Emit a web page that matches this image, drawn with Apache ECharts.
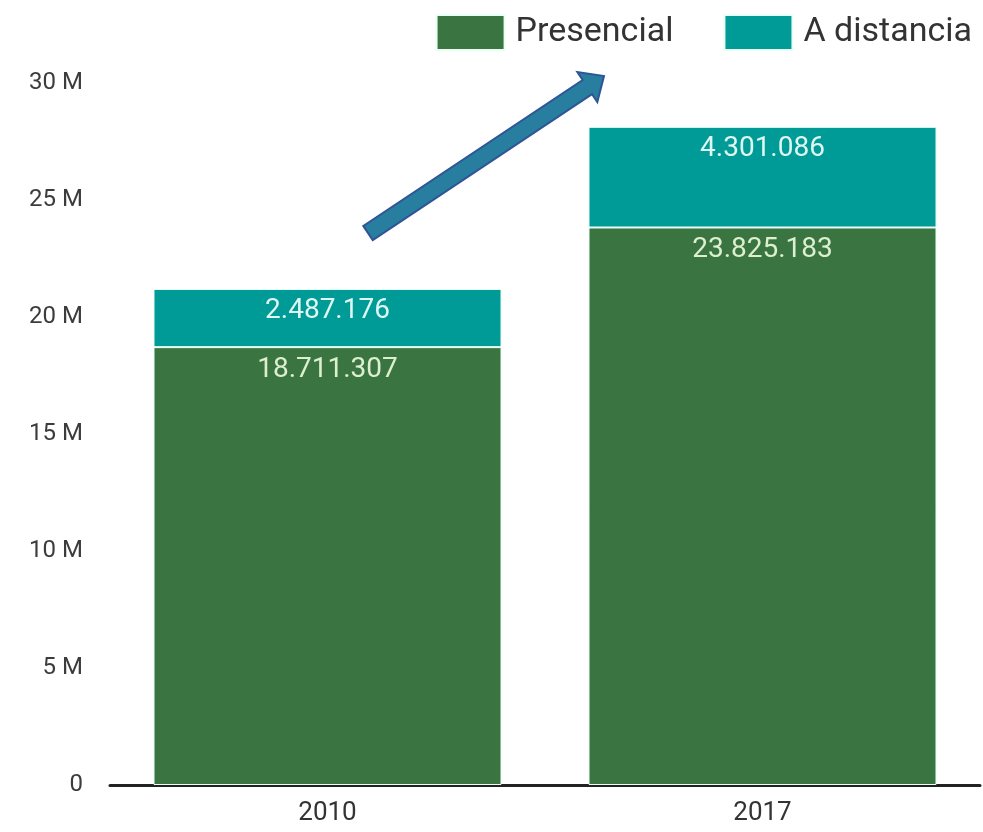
<!DOCTYPE html>
<html>
<head>
<meta charset="utf-8">
<script src="https://cdn.jsdelivr.net/npm/echarts@6/dist/echarts.min.js"></script>
<style>
  html, body { margin: 0; padding: 0; background: #fff; }
  #chart { width: 983px; height: 832px; }
</style>
</head>
<body>
<div id="chart"></div>
<script>
const years = ["2010", "2017"];
const presencial = [18711307, 23825183];
const aDistancia = [2487176, 4301086];
const yTicks = [0, 5, 10, 15, 20, 25, 30]; // millones

const fmt = (v) => String(v).replace(/\B(?=(\d{3})+(?!\d))/g, ".");

const chart = echarts.init(document.getElementById("chart"));

// flecha decorativa (tail -> tip)
const tail = [368, 233];
const tip = [604, 76];
const arrowPts = (() => {
  const dx = tip[0] - tail[0], dy = tip[1] - tail[1];
  const len = Math.hypot(dx, dy);
  const ux = dx / len, uy = dy / len;
  const nx = -uy, ny = ux;
  const hw = 8.5, headW = 18, headL = 20;
  const bx = tip[0] - ux * headL, by = tip[1] - uy * headL;
  return [
    [tail[0] + nx * hw, tail[1] + ny * hw],
    [bx + nx * hw, by + ny * hw],
    [bx + nx * headW, by + ny * headW],
    tip,
    [bx - nx * headW, by - ny * headW],
    [bx - nx * hw, by - ny * hw],
    [tail[0] - nx * hw, tail[1] - ny * hw]
  ];
})();

const option = {
  textStyle: { fontFamily: "Roboto" },
  legend: {
    top: 9,
    right: 6,
    itemWidth: 68,
    itemHeight: 35,
    itemGap: 50,
    icon: "rect",
    textStyle: { fontSize: 34, color: "#333", padding: [0, 0, 0, 6] },
    data: ["Presencial", "A distancia"]
  },
  grid: { left: 110, right: 3, top: 83, bottom: 47 },
  xAxis: {
    type: "category",
    data: years,
    axisLine: { lineStyle: { color: "#222", width: 3 } },
    axisTick: { show: false },
    axisLabel: { fontSize: 26, color: "#333", margin: 15 }
  },
  yAxis: {
    type: "value",
    min: yTicks[0] * 1e6,
    max: yTicks[yTicks.length - 1] * 1e6,
    interval: 5e6,
    splitLine: { show: false },
    axisLabel: {
      fontSize: 24,
      color: "#3c3c3c",
      margin: 27,
      formatter: (v) => (v === 0 ? "0" : v / 1e6 + " M")
    }
  },
  series: [
    {
      name: "Presencial",
      type: "bar",
      stack: "total",
      barWidth: "80%",
      data: presencial,
      itemStyle: { color: "#3a7440", borderColor: "#e8fff4", borderWidth: 1 },
      label: {
        show: true,
        position: "insideTop",
        distance: 9,
        fontSize: 28,
        color: "#dcefd0",
        formatter: (p) => fmt(p.value)
      }
    },
    {
      name: "A distancia",
      type: "bar",
      stack: "total",
      data: aDistancia,
      itemStyle: { color: "#009b96", borderColor: "#e8fff4", borderWidth: 1 },
      label: {
        show: true,
        position: "insideTop",
        distance: 8,
        fontSize: 28,
        color: "#dff6f2",
        formatter: (p) => fmt(p.value)
      }
    }
  ],
  graphic: [
    {
      type: "polygon",
      shape: { points: arrowPts },
      style: { fill: "#277e9e", stroke: "#2f5597", lineWidth: 2 },
      z: 100
    }
  ]
};

chart.setOption(option);
</script>
</body>
</html>
